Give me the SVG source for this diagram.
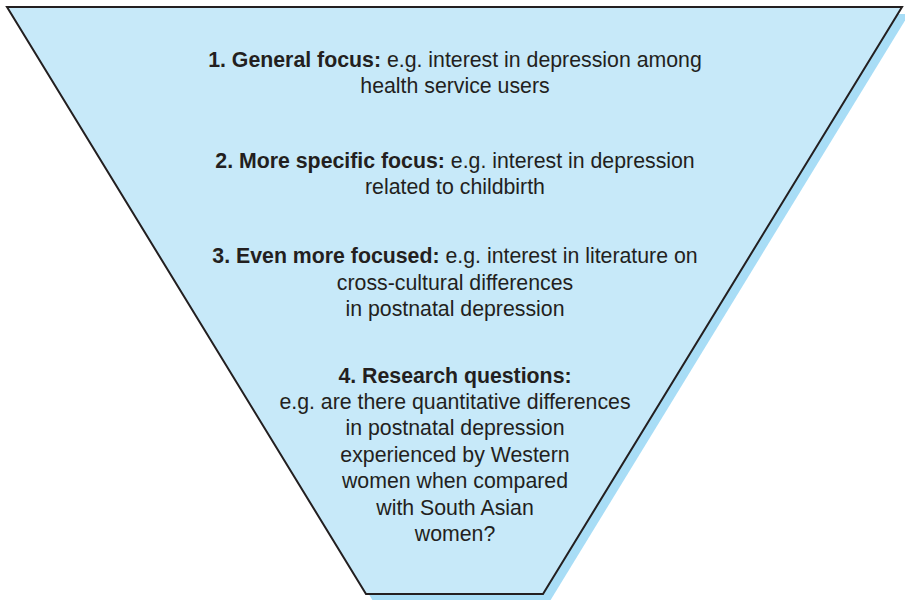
<svg xmlns="http://www.w3.org/2000/svg" width="905" height="600" viewBox="0 0 905 600">
<style>
text{font-family:"Liberation Sans",Arial,sans-serif;font-size:21.3px;fill:#231f20;text-anchor:middle}
.b{font-weight:bold}
</style>
<rect width="905" height="600" fill="#ffffff"/>
<g id="funnel">
<polygon points="14,14 909,14 550,601 373,601" fill="#a8ddf6"/>
<polygon points="7,7 902,7 543,594 366,594" fill="#c7e9f9" stroke="#231f20" stroke-width="2" stroke-linejoin="miter"/>
</g>
<g id="step1">
<text x="455" y="67"><tspan class="b">1. General focus:</tspan> e.g. interest in depression among</text>
<text x="455" y="93">health service users</text>
</g>
<g id="step2">
<text x="455" y="168"><tspan class="b">2. More specific focus:</tspan> e.g. interest in depression</text>
<text x="455" y="194">related to childbirth</text>
</g>
<g id="step3">
<text x="455" y="263"><tspan class="b">3. Even more focused:</tspan> e.g. interest in literature on</text>
<text x="455" y="290">cross-cultural differences</text>
<text x="455" y="316">in postnatal depression</text>
</g>
<g id="step4">
<text x="455" y="383" class="b">4. Research questions:</text>
<text x="455" y="409">e.g. are there quantitative differences</text>
<text x="455" y="435">in postnatal depression</text>
<text x="455" y="462">experienced by Western</text>
<text x="455" y="488">women when compared</text>
<text x="455" y="515">with South Asian</text>
<text x="455" y="541">women?</text>
</g>
</svg>
